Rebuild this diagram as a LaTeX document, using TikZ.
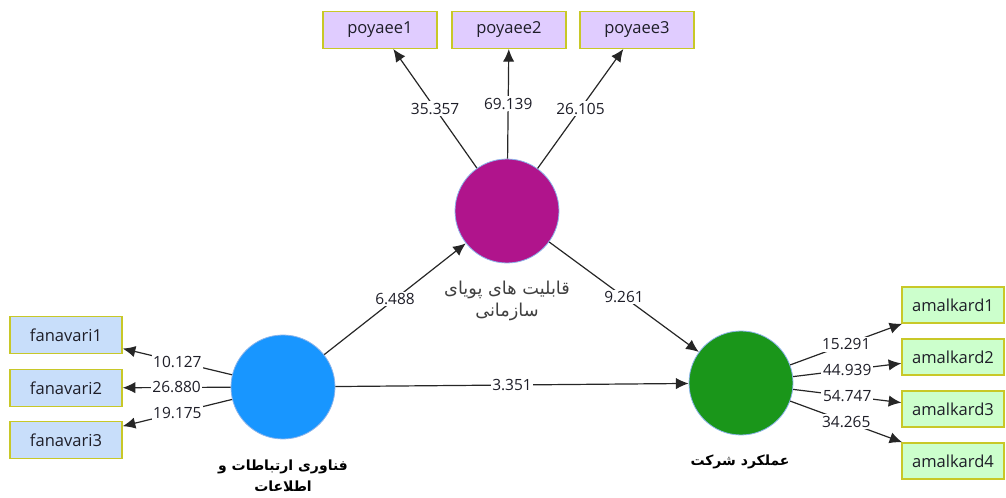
\documentclass[tikz,border=0pt]{standalone}
\usepackage{fontspec}
\setmainfont{Open Sans}
\newfontfamily\fa[Script=Arabic]{DejaVu Sans}
\TeXXeTstate=1
\usetikzlibrary{arrows.meta}
\definecolor{boxborder}{RGB}{200,200,40}
\definecolor{lav}{RGB}{224,204,255}
\definecolor{lblue}{RGB}{200,222,250}
\definecolor{lgreen}{RGB}{204,255,204}
\definecolor{cmag}{RGB}{176,20,140}
\definecolor{cblue}{RGB}{24,150,255}
\definecolor{cgreen}{RGB}{26,150,26}
\definecolor{cedge}{RGB}{140,180,235}
\definecolor{txt}{RGB}{30,30,40}
\begin{document}
\begin{tikzpicture}[x=0.75pt,y=-0.75pt,
  every node/.style={font=\fontsize{11.6pt}{13pt}\selectfont, text=txt},
  indbox/.style={draw=boxborder, line width=1pt, minimum height=27.5pt, inner sep=0pt, font=\fontsize{12.4pt}{14pt}\selectfont},
  lvbox/.style={indbox, fill=lav, minimum width=85.5pt},
  fnbox/.style={indbox, fill=lblue, minimum width=84pt},
  amb/.style={indbox, fill=lgreen, minimum width=76.5pt, minimum height=27pt},
  lat/.style={circle, draw=cedge, line width=0.6pt, minimum size=78pt, inner sep=0pt},
  arr/.style={-{Latex[length=9.5pt,width=8.5pt]}, line width=0.9pt, black!85},
  lbl/.style={fill=white, inner sep=1.2pt, midway}
]
\useasboundingbox (0,0) rectangle (1006,498);
% top indicators
\node[lvbox] (p1) at (380,30) {poyaee1};
\node[lvbox] (p2) at (509,30) {poyaee2};
\node[lvbox] (p3) at (637,30) {poyaee3};
% left indicators
\node[fnbox] (f1) at (66,335) {fanavari1};
\node[fnbox] (f2) at (66,388) {fanavari2};
\node[fnbox] (f3) at (66,440) {fanavari3};
% right indicators
\node[amb] (a1) at (953,305) {amalkard1};
\node[amb] (a2) at (953,357) {amalkard2};
\node[amb] (a3) at (953,409) {amalkard3};
\node[amb] (a4) at (953,461) {amalkard4};
% latent variables
\node[lat, fill=cmag] (mag) at (507,211) {};
\node[lat, fill=cblue] (ict) at (283,387) {};
\node[lat, fill=cgreen] (perf) at (741,383) {};
% latent labels
\node[align=center, text=black!75, font=\fa\fontsize{13.3pt}{17pt}\selectfont] (magl) at (507,301) {\beginR قابلیت های پویای\endR\\\beginR سازمانی\endR};
\node[align=center, text=black, font=\fa\bfseries\fontsize{10.5pt}{16pt}\selectfont] (ictl) at (283,476) {\beginR فناوری ارتباطات و\endR\\\beginR اطلاعات\endR};
\node[text=black, font=\fa\bfseries\fontsize{10.5pt}{13pt}\selectfont] (perfl) at (740,462) {\beginR عملکرد شرکت\endR};
% outer loadings
\draw[arr] (mag) -- node[lbl] {35.357} (p1);
\draw[arr] (mag) -- node[lbl] {69.139} (p2);
\draw[arr] (mag) -- node[lbl] {26.105} (p3);
\draw[arr] (ict) -- node[lbl] {10.127} (f1);
\draw[arr] (ict) -- node[lbl] {26.880} (f2);
\draw[arr] (ict) -- node[lbl] {19.175} (f3);
\draw[arr] (perf) -- node[lbl] {15.291} (a1);
\draw[arr] (perf) -- node[lbl] {44.939} (a2);
\draw[arr] (perf) -- node[lbl] {54.747} (a3);
\draw[arr] (perf) -- node[lbl] {34.265} (a4);
% paths
\draw[arr] (ict) -- node[lbl] {6.488} (mag);
\draw[arr] (mag) -- node[lbl] {9.261} (perf);
\draw[arr] (ict) -- node[lbl] {3.351} (perf);
\end{tikzpicture}
\end{document}
